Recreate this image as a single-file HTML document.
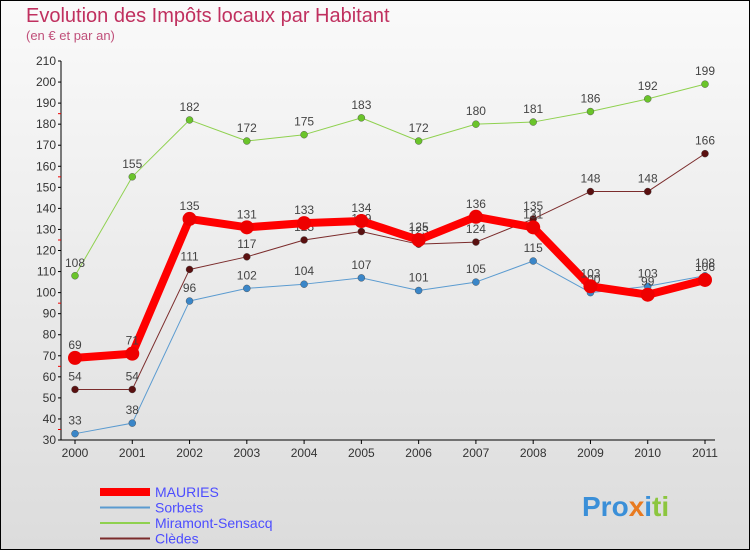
<!DOCTYPE html>
<html><head><meta charset="utf-8"><style>
body{margin:0;}
#wrap{width:750px;height:550px;position:relative;overflow:hidden;}
svg text{font-family:"Liberation Sans",sans-serif;}
</style></head><body>
<div id="wrap">
<svg id="chart" width="750" height="550" xmlns="http://www.w3.org/2000/svg">
<defs><linearGradient id="bg" x1="0" y1="0" x2="0" y2="1"><stop offset="0" stop-color="#fafafa"/><stop offset="1" stop-color="#dcdcdc"/></linearGradient></defs>
<rect x="0.5" y="0.5" width="749" height="549" fill="url(#bg)" stroke="#000"/>
<text x="26" y="22" font-size="20" fill="#c0305f">Evolution des Impôts locaux par Habitant</text>
<text x="26" y="40" font-size="13" fill="#c0507a">(en € et par an)</text>
<g id="axes"></g><g id="series"></g><g id="legend"></g>
<text x="582" y="516" font-size="28" font-weight="bold" fill="#3a8fd8">Pro<tspan fill="#e87a20">x</tspan><tspan fill="#3a8fd8">i</tspan><tspan fill="#8cc63f">ti</tspan></text>
</svg></div>
<script>
const years=["2000","2001","2002","2003","2004","2005","2006","2007","2008","2009","2010","2011"];
const yTicks=[30,40,50,60,70,80,90,100,110,120,130,140,150,160,170,180,190,200,210];
const mauries=[69,71,135,131,133,134,125,136,131,103,99,106];
const sorbets=[33,38,96,102,104,107,101,105,115,100,103,108];
const miramont=[108,155,182,172,175,183,172,180,181,186,192,199];
const cledes=[54,54,111,117,125,129,123,124,135,148,148,166];
const NS="http://www.w3.org/2000/svg";
const X0=75,X1=705,Y0=440,Y1=61,VMIN=30,VMAX=210;
function xs(i){return X0+(X1-X0)*i/(years.length-1);}
function ys(v){return Y0-(v-VMIN)*(Y0-Y1)/(VMAX-VMIN);}
function mk(tag,attrs,parent){const e=document.createElementNS(NS,tag);for(const k in attrs)e.setAttribute(k,attrs[k]);parent.appendChild(e);return e;}
const axes=document.getElementById('axes');
const yl=mk('line',{x1:61,y1:Y1,x2:61,y2:Y0,stroke:'#000'},axes);


const xl=mk('line',{x1:61,y1:Y0,x2:X1+10,y2:Y0,stroke:'#000'},axes);


yTicks.forEach((v,k)=>{const y=ys(v);
 mk('line',{x1:58,y1:y,x2:61,y2:y,stroke:'#000'},axes);
 if(k%3===0&&k<yTicks.length-1) mk('line',{x1:58,y1:y-10.5,x2:61,y2:y-10.5,stroke:'#e00'},axes);
 const t=mk('text',{x:56,y:y+4,'font-size':12,'text-anchor':'end',fill:'#333'},axes);t.textContent=v;
 
 });
years.forEach((yr,i)=>{const x=xs(i);
 mk('line',{x1:x,y1:Y0,x2:x,y2:Y0+4,stroke:'#000'},axes);
 const t=mk('text',{x:x,y:Y0+17,'font-size':12,'text-anchor':'middle',fill:'#333'},axes);t.textContent=yr;
 
 });
const series=[
 {name:'Miramont-Sensacq',data:miramont,color:'#8fd14f',dot:'#6ac42a',w:1,r:3.5},
 {name:'Clèdes',data:cledes,color:'#7b2c2c',dot:'#5a1010',w:1,r:3.5},
 {name:'Sorbets',data:sorbets,color:'#5b9bd0',dot:'#3a86c8',w:1,r:3.5},
 {name:'MAURIES',data:mauries,color:'#ff0000',dot:'#ee0000',w:8,r:7}];
const sg=document.getElementById('series');
series.forEach(s=>{const g=mk('g',{},sg);
 
 
 const pts=s.data.map((v,i)=>xs(i)+','+ys(v)).join(' ');
 const pl=mk('polyline',{points:pts,fill:'none',stroke:s.color,'stroke-width':s.w,'stroke-linejoin':'round'},g);
 
 
 s.data.forEach((v,i)=>{const c=mk('circle',{cx:xs(i),cy:ys(v),r:s.r,fill:s.dot,stroke:s.w>1?'none':'#444','stroke-width':0.4},g);
  
  
  const t=mk('text',{x:xs(i),y:ys(v)-9,'font-size':12,'text-anchor':'middle',fill:'#444'},g);t.textContent=v;
  
  });
});
const lg=document.getElementById('legend');
const leg=[{n:'MAURIES',c:'#ff0000',w:8},{n:'Sorbets',c:'#5b9bd0',w:2},{n:'Miramont-Sensacq',c:'#8fd14f',w:2},{n:'Clèdes',c:'#7b2c2c',w:2}];
leg.forEach((l,i)=>{const y=492+i*15.5;
 const g=mk('g',{},lg);
 
 
 mk('line',{x1:100,y1:y,x2:150,y2:y,stroke:l.c,'stroke-width':l.w},g);
 const t=mk('text',{x:155,y:y+5,'font-size':14,fill:'#4d4dff'},g);t.textContent=l.n;});
</script></body></html>
